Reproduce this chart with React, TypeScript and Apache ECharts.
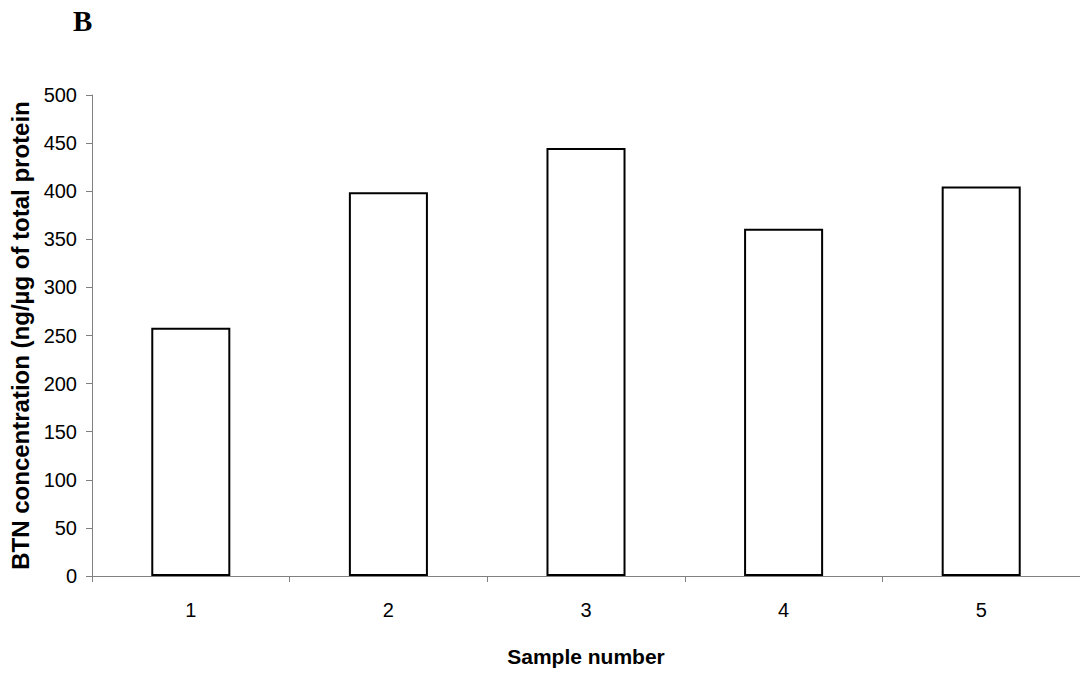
import React, { useEffect, useRef } from "react";
import * as echarts from "echarts";

const categories = ["1", "2", "3", "4", "5"];
const concentrations = [258, 399, 445, 361, 405];
const yMin = 0;
const yMax = 500;
const yInterval = 50;
const panelLabel = "B";
const yTitle = "BTN concentration (ng/µg of total protein";
const xTitle = "Sample number";

const sans = "'Liberation Sans', Arial, sans-serif";

export default function App() {
  const ref = useRef<HTMLDivElement>(null);
  useEffect(() => {
    document.body.style.margin = "0";
    const chart = echarts.init(ref.current!, null, { renderer: "svg" });
    chart.setOption({
      animation: false,
      backgroundColor: "#ffffff",
      title: {
        text: panelLabel,
        left: 68,
        top: 1,
        textStyle: {
          fontFamily: "'Liberation Serif', 'Times New Roman', serif",
          fontWeight: "bold",
          fontSize: 29,
          color: "#000",
        },
      },
      grid: { left: 92, right: 0, top: 95, bottom: 101, containLabel: false },
      xAxis: {
        type: "category",
        data: categories,
        boundaryGap: true,
        name: xTitle,
        nameLocation: "middle",
        nameGap: 70,
        nameTextStyle: { fontFamily: sans, fontWeight: "bold", fontSize: 21, color: "#000" },
        axisLine: { lineStyle: { color: "#808080", width: 1 } },
        axisTick: { show: true, length: 6, alignWithLabel: false, lineStyle: { color: "#808080" } },
        axisLabel: { fontFamily: sans, fontSize: 20, color: "#000", margin: 24 },
        splitLine: { show: false },
      },
      yAxis: {
        type: "value",
        min: yMin,
        max: yMax,
        interval: yInterval,
        name: yTitle,
        nameLocation: "middle",
        nameRotate: 90,
        nameGap: 54,
        nameTextStyle: { fontFamily: sans, fontWeight: "bold", fontSize: 24, color: "#000" },
        axisLine: { show: true, lineStyle: { color: "#808080", width: 1 } },
        axisTick: { show: true, length: 6, lineStyle: { color: "#808080" } },
        axisLabel: { fontFamily: sans, fontSize: 20, color: "#000", margin: 15 },
        splitLine: { show: false },
      },
      series: [
        {
          type: "bar",
          data: concentrations,
          barWidth: "40%",
          itemStyle: { color: "#ffffff", borderColor: "#000000", borderWidth: 2 },
        },
      ],
    });
    return () => chart.dispose();
  }, []);
  return <div ref={ref} style={{ width: 1080, height: 677 }} />;
}
